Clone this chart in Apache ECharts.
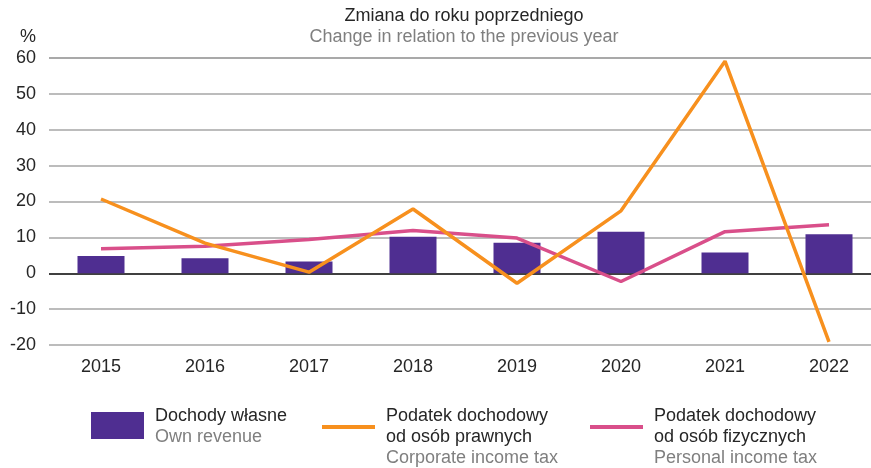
<!DOCTYPE html>
<html>
<head>
<meta charset="utf-8">
<script src="https://cdn.jsdelivr.net/npm/echarts@6/dist/echarts.min.js"></script>
<style>
  html, body { margin: 0; padding: 0; background: #fff; }
  #main { width: 871px; height: 468px; }
</style>
</head>
<body>
<div id="main"></div>
<script>
// data
var years = ['2015', '2016', '2017', '2018', '2019', '2020', '2021', '2022'];
var ownRevenue = [4.8, 4.2, 3.3, 10.2, 8.5, 11.6, 5.8, 10.9];
var corporateTax = [20.7, 8.4, 0.3, 17.9, -2.8, 17.4, 59.1, -19.1];
var personalTax = [6.8, 7.5, 9.4, 11.9, 9.8, -2.3, 11.6, 13.5];
var seriesNames = ['Dochody własne', 'Podatek dochodowy od osób prawnych', 'Podatek dochodowy od osób fizycznych'];
var legendLines = [
  ['Dochody własne'],
  ['Podatek dochodowy', 'od osób prawnych'],
  ['Podatek dochodowy', 'od osób fizycznych']
];
var legendEnglish = ['Own revenue', 'Corporate income tax', 'Personal income tax'];

var FONT = '"Liberation Sans", Arial, sans-serif';
var DARK = '#262626';
var GREY = '#7f7f7f';
var PURPLE = '#4f2e91';
var ORANGE = '#f7901e';
var PINK = '#d94f8a';

var myChart = echarts.init(document.getElementById('main'), null, { renderer: 'canvas' });

// legend is drawn by hand (swatch + two-language text)
var legendX = [91, 322, 590];
var graphics = [
  { type: 'text', left: 20, top: 28, style: { text: '%', font: '18px ' + FONT, fill: DARK } },
  { type: 'rect', shape: { x: 91, y: 412, width: 53, height: 27 }, style: { fill: PURPLE } },
  { type: 'line', shape: { x1: 322, y1: 427, x2: 375, y2: 427 }, style: { stroke: ORANGE, lineWidth: 4 } },
  { type: 'line', shape: { x1: 590, y1: 427, x2: 643, y2: 427 }, style: { stroke: PINK, lineWidth: 4 } }
];
legendLines.forEach(function (lines, i) {
  var x = legendX[i] + 64;
  var y = 416;
  lines.forEach(function (t) {
    graphics.push({ type: 'text', x: x, y: y, style: { text: t, font: '18px ' + FONT, fill: DARK, verticalAlign: 'middle' } });
    y += 21;
  });
  graphics.push({ type: 'text', x: x, y: y, style: { text: legendEnglish[i], font: '18px ' + FONT, fill: GREY, verticalAlign: 'middle' } });
});

var gridColors = ['#a6a6a6', '#a6a6a6', '#000000', '#a6a6a6', '#a6a6a6', '#a6a6a6', '#a6a6a6', '#a6a6a6', '#8c8c8c'];

var option = {
  animation: false,
  title: {
    text: 'Zmiana do roku poprzedniego',
    subtext: 'Change in relation to the previous year',
    left: 459,
    top: 2,
    textAlign: 'center',
    itemGap: 3,
    textStyle: { fontFamily: FONT, fontSize: 18, fontWeight: 'normal', color: DARK },
    subtextStyle: { fontFamily: FONT, fontSize: 18, color: GREY }
  },
  // plot band runs past the right edge, like the source
  grid: { left: 49, top: 58, width: 832, height: 287, outerBoundsMode: 'none', containLabel: false },
  xAxis: {
    type: 'category',
    data: years,
    axisLine: { show: false },
    axisTick: { show: false },
    axisLabel: { fontFamily: FONT, fontSize: 18, color: DARK, margin: 13 }
  },
  yAxis: {
    type: 'value',
    min: -20,
    max: 60,
    interval: 10,
    axisLine: { show: false },
    axisTick: { show: false },
    axisLabel: { fontFamily: FONT, fontSize: 18, color: DARK, margin: 13 },
    splitLine: { lineStyle: { color: gridColors, width: 1.5 } }
  },
  graphic: graphics,
  series: [
    {
      name: seriesNames[0],
      type: 'bar',
      data: ownRevenue,
      barWidth: 47,
      itemStyle: { color: PURPLE }
    },
    {
      name: seriesNames[2],
      type: 'line',
      data: personalTax,
      symbol: 'none',
      lineStyle: { color: PINK, width: 3.5 }
    },
    {
      name: seriesNames[1],
      type: 'line',
      data: corporateTax,
      symbol: 'none',
      lineStyle: { color: ORANGE, width: 3.5 }
    }
  ]
};

myChart.setOption(option);
</script>
</body>
</html>
